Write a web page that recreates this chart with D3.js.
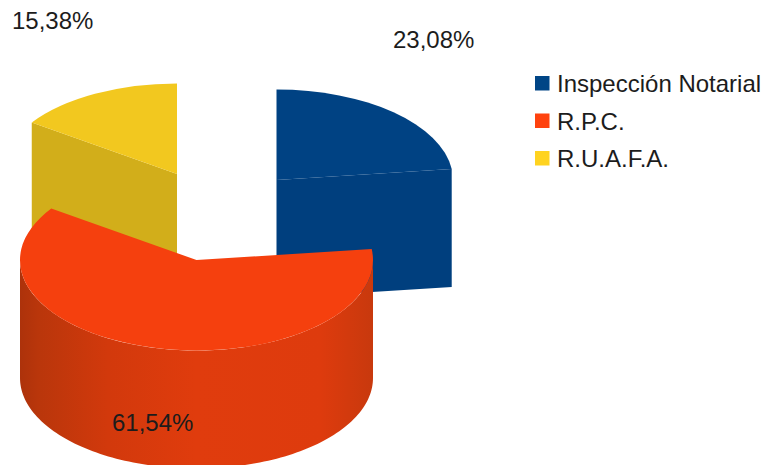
<!DOCTYPE html>
<html>
<head>
<meta charset="utf-8">
<script src="https://cdn.jsdelivr.net/npm/d3@7"></script>
<style>
  html, body { margin: 0; padding: 0; background: #fff; }
  svg { display: block; }
  text { font-family: "Liberation Sans", Arial, sans-serif; font-size: 24px; fill: #1c1c1c; }
</style>
</head>
<body>
<div id="chart"></div>
<script>
const categories = ["Inspección Notarial", "R.P.C.", "R.U.A.F.A."];
const percents = [23.08, 61.54, 15.38];
const topColors = ["#004283", "#f5400e", "#f2c81f"];
const legendColors = ["#004586", "#ff420e", "#ffd320"];

const width = 770, height = 465;
const rx = 176.5, ry = 90.5, depth = 118;

// exploded centre of every slice, same order as categories
const centers = [[276.5, 180], [196.5, 260], [177, 174]];
const labelPos = [[393, 48], [112, 431], [12, 29]];

const svg = d3.select("#chart")
  .append("svg")
  .attr("width", width)
  .attr("height", height);

const pct = d3.formatLocale({ decimal: ",", thousands: ".", grouping: [3], currency: ["", ""] }).format(".2f");

const slices = d3.pie().sort(null)(percents);
const arc = d3.arc().innerRadius(0).outerRadius(rx);

// flattened circle, angles are clockwise from the top like d3.arc
function pt(i, a, down = 0) {
  const [cx, cy] = centers[i];
  return [cx + rx * Math.sin(a), cy - ry * Math.cos(a) + down];
}

const line = d3.line();

const grad = svg.append("defs").append("linearGradient")
  .attr("id", "wall")
  .attr("gradientUnits", "userSpaceOnUse")
  .attr("x1", centers[1][0] - rx).attr("x2", centers[1][0] + rx)
  .attr("y1", 0).attr("y2", 0);
[[0, "#ad320b"], [0.05, "#b9360b"], [0.25, "#d2390c"], [0.5, "#e03c0d"], [0.85, "#de3b0d"], [1, "#c8390d"]]
  .forEach(s => grad.append("stop").attr("offset", s[0]).attr("stop-color", s[1]));

function drawTop(i, fill) {
  svg.append("path")
    .attr("d", arc(slices[i]))
    .attr("transform", `translate(${centers[i][0]},${centers[i][1]}) scale(1,${ry / rx})`)
    .attr("fill", fill);
}

// flat cut face running from the centre out to angle a
function drawCut(i, a, fill) {
  const c = centers[i];
  const e = pt(i, a);
  svg.append("path")
    .attr("d", line([c, e, [e[0], e[1] + depth], [c[0], c[1] + depth]]) + "Z")
    .attr("fill", fill);
}

// blue
drawCut(0, slices[0].endAngle, "#003f7e");
drawTop(0, topColors[0]);

// yellow
drawCut(2, slices[2].startAngle, "#d2ae1a");
drawTop(2, topColors[2]);

// orange, only the front half of the rim can be seen
const rimAngles = d3.range(Math.PI / 2, 3 * Math.PI / 2 + 0.001, Math.PI / 120);
const rim = rimAngles.map(a => pt(1, a)).concat(rimAngles.slice().reverse().map(a => pt(1, a, depth)));
svg.append("path")
  .attr("d", line(rim) + "Z")
  .attr("fill", "url(#wall)");
drawTop(1, topColors[1]);

// value labels
svg.append("g").selectAll("text")
  .data(percents)
  .join("text")
  .attr("x", (d, i) => labelPos[i][0])
  .attr("y", (d, i) => labelPos[i][1])
  .text(d => pct(d) + "%");

// legend
const legend = svg.append("g").selectAll("g")
  .data(categories)
  .join("g")
  .attr("transform", (d, i) => `translate(535,${76 + i * 37.5})`);

legend.append("rect")
  .attr("width", 14.5)
  .attr("height", 14.5)
  .attr("fill", (d, i) => legendColors[i]);

legend.append("text")
  .attr("x", 22)
  .attr("y", 16)
  .text(d => d);
</script>
</body>
</html>
